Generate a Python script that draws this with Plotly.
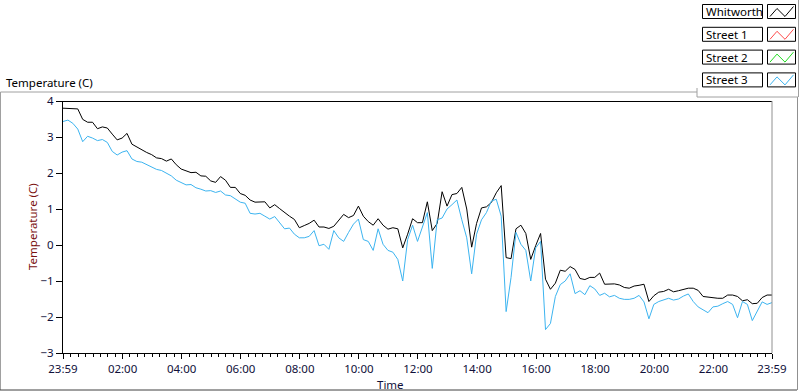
import pandas as pd
import plotly.graph_objects as go

# ---- data (10-minute samples from 23:59) ----
whitworth = [3.80, 3.80, 3.78, 3.78, 3.49, 3.41, 3.41, 3.23, 3.28, 3.25,
             3.08, 2.92, 2.97, 3.10, 2.80, 2.72, 2.64, 2.57, 2.51, 2.42,
             2.40, 2.33, 2.39, 2.23, 2.11, 2.06, 2.01, 2.02, 1.92, 1.91,
             1.78, 1.74, 1.90, 1.80, 1.60, 1.60, 1.43, 1.38, 1.25, 1.19,
             1.20, 1.20, 1.03, 1.12, 1.01, 0.90, 0.80, 0.71, 0.48, 0.54,
             0.60, 0.69, 0.50, 0.50, 0.46, 0.52, 0.67, 0.85, 0.76, 0.82,
             1.08, 0.80, 0.65, 0.55, 0.73, 0.55, 0.44, 0.48, 0.45, -0.08,
             0.30, 0.73, 0.62, 0.62, 1.20, 0.40, 0.60, 1.48, 1.08, 1.40,
             1.43, 1.60, 1.00, -0.06, 0.60, 1.03, 1.06, 1.18, 1.45, 1.65,
             -0.35, -0.38, 0.45, 0.55, 0.32, -0.40, -0.02, 0.32, -0.95, -1.23,
             -1.06, -0.70, -0.73, -0.60, -0.68, -0.93, -0.96, -0.90, -0.90, -0.78,
             -1.09, -1.08, -1.08, -1.11, -1.18, -1.20, -1.14, -1.12, -1.09, -1.57,
             -1.41, -1.31, -1.29, -1.23, -1.30, -1.27, -1.23, -1.20, -1.20, -1.26,
             -1.43, -1.45, -1.48, -1.48, -1.48, -1.39, -1.39, -1.43, -1.55, -1.52,
             -1.63, -1.62, -1.46, -1.39, -1.39]
street1 = []
street2 = []
street3 = [3.43, 3.47, 3.38, 3.22, 2.87, 3.02, 2.97, 2.90, 2.93, 2.85,
           2.60, 2.50, 2.58, 2.62, 2.39, 2.32, 2.30, 2.23, 2.15, 2.10,
           2.07, 1.99, 1.92, 1.80, 1.74, 1.67, 1.68, 1.59, 1.55, 1.50,
           1.51, 1.46, 1.50, 1.39, 1.37, 1.29, 1.19, 1.16, 0.88, 0.86,
           0.88, 0.80, 0.72, 0.79, 0.62, 0.45, 0.47, 0.30, 0.20, 0.20,
           0.24, 0.40, -0.02, 0.02, -0.12, 0.40, 0.20, 0.10, 0.35, 0.58,
           0.72, 0.15, 0.10, -0.15, 0.45, 0.02, -0.15, -0.20, -0.40, -1.00,
           0.15, 0.55, 0.10, 0.52, 0.90, -0.65, 0.70, 0.75, 1.00, 1.12,
           1.25, 0.70, 0.20, -0.80, 0.30, 0.70, 0.90, 1.22, 1.27, 0.80,
           -1.85, -0.90, 0.35, 0.02, -0.15, -1.00, -0.08, 0.10, -2.35, -2.18,
           -1.43, -1.10, -1.00, -0.80, -1.35, -1.27, -1.38, -1.13, -1.22, -1.40,
           -1.34, -1.44, -1.40, -1.48, -1.51, -1.51, -1.48, -1.40, -1.58, -2.05,
           -1.65, -1.57, -1.52, -1.48, -1.53, -1.50, -1.42, -1.36, -1.57, -1.72,
           -1.80, -1.88, -1.72, -1.70, -1.63, -1.57, -1.65, -2.02, -1.57, -1.65,
           -2.10, -1.83, -1.58, -1.65, -1.60]

start = pd.Timestamp("2000-01-01 23:59")
times = pd.date_range(start, periods=len(whitworth), freq="10min")
end = times[-1]

tick_vals = [start] + [pd.Timestamp("2000-01-02 %02d:00" % h) for h in range(2, 24, 2)] + [end]
tick_text = ["23:59"] + ["%02d:00" % h for h in range(2, 24, 2)] + ["23:59"]
y_ticks = [-3, -2, -1, 0, 1, 2, 3, 4]

legend_names = ["Whitworth", "Street 1", "Street 2", "Street 3"]
legend_colors = ["#000000", "#ff4a4a", "#22dd22", "#3cb4f0"]

FONT = "Noto Sans"

fig = go.Figure()
series = [whitworth, street1, street2, street3]
for name, vals, col in zip(legend_names, series, legend_colors):
    fig.add_trace(go.Scatter(x=times[:len(vals)], y=vals, mode="lines", name=name,
                             line=dict(color=col, width=1), showlegend=False,
                             hoverinfo="skip"))

# geometry helpers (pixel -> paper)
L, R, T, B = 63, 28, 101, 39
W, H = 800, 392
PW, PH = W - L - R, H - T - B
def px(x): return (x - L) / PW
def py(y): return (H - B - y) / PH

shapes = []
def line(x0, y0, x1, y1, color, width=1):
    shapes.append(dict(type="line", xref="paper", yref="paper",
                       x0=px(x0), y0=py(y0), x1=px(x1), y1=py(y1),
                       line=dict(color=color, width=width)))

# outer panel
line(0.5, 92, 697, 92, "#a0a0a0")
line(0.5, 92, 0.5, 390, "#a0a0a0")
line(0, 390, 797, 390, "#404040")
line(797.5, 97, 797.5, 390, "#909090")
# legend frame
line(697, 88, 697, 97, "#a0a0a0")
line(697, 97, 798, 97, "#a0a0a0")
line(798.5, 0, 798.5, 97, "#a0a0a0")
# plot frame top/right
line(L, T + 0.5, W - R, T + 0.5, "#000000")
line(W - R, T, W - R, H - B, "#909090")

annotations = []
for i, (name, col) in enumerate(zip(legend_names, legend_colors)):
    top = 4.5 + 22.8 * i
    bot = top + 14
    shapes.append(dict(type="rect", xref="paper", yref="paper",
                       x0=px(702.5), x1=px(762.5), y0=py(bot), y1=py(top),
                       line=dict(color="#000000", width=1), fillcolor="white"))
    shapes.append(dict(type="rect", xref="paper", yref="paper",
                       x0=px(767.5), x1=px(795.5), y0=py(bot), y1=py(top),
                       line=dict(color="#000000", width=1), fillcolor="white"))
    pts = [(770, top + 12), (777, top + 4), (785, top + 12), (793.5, top + 2)]
    path = "M " + " L ".join("%f,%f" % (px(a), py(b)) for a, b in pts)
    shapes.append(dict(type="path", xref="paper", yref="paper", path=path,
                       line=dict(color=col, width=1)))
    annotations.append(dict(xref="paper", yref="paper", x=px(704), y=py(top + 7),
                            text=name, showarrow=False, xanchor="left", yanchor="middle",
                            font=dict(family=FONT, size=11.5, color="#000000")))

annotations.append(dict(xref="paper", yref="paper", x=px(4), y=py(82.5),
                        text="Temperature (C)", showarrow=False, xanchor="left",
                        yanchor="middle", font=dict(family=FONT, size=11.5, color="#000000")))
annotations.append(dict(xref="paper", yref="paper", x=px(32), y=py(227),
                        text="Temperature (C)", showarrow=False, textangle=-90,
                        xanchor="center", yanchor="middle",
                        font=dict(family=FONT, size=11.5, color="#7a1010")))
annotations.append(dict(xref="paper", yref="paper", x=px(390), y=py(384),
                        text="Time", showarrow=False, xanchor="center", yanchor="middle",
                        font=dict(family=FONT, size=11.5, color="#10103a")))

fig.update_layout(
    width=W, height=H,
    margin=dict(l=L, r=R, t=T, b=B, pad=0),
    paper_bgcolor="white", plot_bgcolor="white",
    shapes=shapes, annotations=annotations,
    showlegend=False, hovermode=False,
    xaxis=dict(range=[start, end], tickmode="array", tickvals=tick_vals, ticktext=tick_text,
               showgrid=False, zeroline=False, showline=True, linecolor="#000000", linewidth=1,
               ticks="outside", ticklen=5, tickcolor="#000000", tickwidth=1,
               tickfont=dict(family=FONT, size=11.5, color="#10103a"),
               minor=dict(dtick=15 * 60 * 1000, tick0="2000-01-02 00:00", ticks="outside",
                          ticklen=3, tickcolor="#000000", tickwidth=1, showgrid=False)),
    yaxis=dict(range=[-3, 4], tickmode="array", tickvals=y_ticks,
               showgrid=False, zeroline=False, showline=True, linecolor="#000000", linewidth=1,
               ticks="outside", ticklen=6, tickcolor="#000000", tickwidth=1,
               tickfont=dict(family=FONT, size=11.5, color="#10103a")),
)

fig.write_html(
    "out.html",
    config={"displayModeBar": False, "staticPlot": True},
    post_script="document.body.style.margin='0';document.body.style.padding='0';"
                "document.body.style.overflow='hidden';",
)
